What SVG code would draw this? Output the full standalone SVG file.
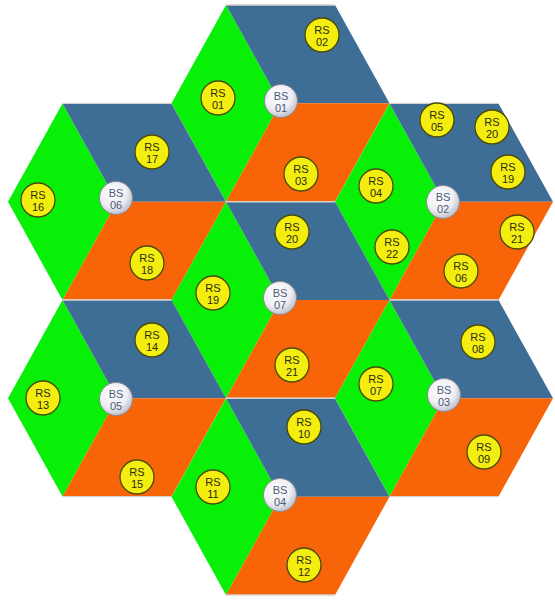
<svg xmlns="http://www.w3.org/2000/svg" xmlns:xlink="http://www.w3.org/1999/xlink" width="555" height="602" viewBox="0 0 555 602">
<style>
.g{fill:#08ef08}
.b{fill:#3e6e96}
.o{fill:#f86408}
.edge{stroke:#d9d2cc;stroke-width:1.4;fill:none}
.rs{fill:#f4ee10;stroke:#4a4a08;stroke-width:1.3}
.bs{fill:url(#bsg);stroke:#8a8a90;stroke-width:1}
text{font-family:"Liberation Sans",Arial,sans-serif;font-size:11px;text-anchor:middle;fill:#2a2a10}
text.bt{fill:#4a5a78}
</style>
<defs>
<radialGradient id="bsg" cx="40%" cy="35%" r="70%">
<stop offset="0" stop-color="#ffffff"/>
<stop offset="0.6" stop-color="#eeeef4"/>
<stop offset="1" stop-color="#b8b8c4"/>
</radialGradient>
<g id="hex">
<polygon class="g" points="-109,0 -54.5,-98.3 0,0 -54.5,98.3"/>
<polygon class="b" points="-54.5,-98.3 54.5,-98.3 109,0 0,0"/>
<polygon class="o" points="0,0 109,0 54.5,98.3 -54.5,98.3"/>
<path class="edge" d="M-54.5,-98.3H54.5M-54.5,98.3H54.5"/>
</g>
</defs>

<g id="cells">
<use xlink:href="#hex" href="#hex" x="280.5" y="103.3"/>
<use xlink:href="#hex" href="#hex" x="117" y="201.7"/>
<use xlink:href="#hex" href="#hex" x="444" y="201.7"/>
<use xlink:href="#hex" href="#hex" x="280.5" y="300"/>
<use xlink:href="#hex" href="#hex" x="117" y="398.3"/>
<use xlink:href="#hex" href="#hex" x="444" y="398.3"/>
<use xlink:href="#hex" href="#hex" x="280.5" y="496.7"/>
</g>

<g id="connectors"></g>

<g id="cell1">
<g id="rs02"><circle class="rs" cx="322" cy="35" r="17"/><text x="322" y="34">RS</text><text x="322" y="46">02</text></g>
<g id="rs01"><circle class="rs" cx="218" cy="98" r="17"/><text x="218" y="97">RS</text><text x="218" y="109">01</text></g>
<g id="bs01"><circle class="bs" cx="281" cy="101" r="16.5"/><text class="bt" x="281" y="100">BS</text><text class="bt" x="281" y="112">01</text></g>
<g id="rs03"><circle class="rs" cx="301" cy="174" r="17"/><text x="301" y="173">RS</text><text x="301" y="185">03</text></g>
</g>

<g id="cell2">
<g id="rs05"><circle class="rs" cx="437" cy="120" r="17"/><text x="437" y="119">RS</text><text x="437" y="131">05</text></g>
<g id="rs20b"><circle class="rs" cx="492" cy="127" r="17"/><text x="492" y="126">RS</text><text x="492" y="138">20</text></g>
<g id="rs19b"><circle class="rs" cx="508" cy="172" r="17"/><text x="508" y="171">RS</text><text x="508" y="183">19</text></g>
<g id="rs04"><circle class="rs" cx="376" cy="186" r="17"/><text x="376" y="185">RS</text><text x="376" y="197">04</text></g>
<g id="bs02"><circle class="bs" cx="443" cy="202" r="16.5"/><text class="bt" x="443" y="201">BS</text><text class="bt" x="443" y="213">02</text></g>
<g id="rs21b"><circle class="rs" cx="517" cy="232" r="17"/><text x="517" y="231">RS</text><text x="517" y="243">21</text></g>
<g id="rs22"><circle class="rs" cx="392" cy="247" r="17"/><text x="392" y="246">RS</text><text x="392" y="258">22</text></g>
<g id="rs06"><circle class="rs" cx="461" cy="271" r="17"/><text x="461" y="270">RS</text><text x="461" y="282">06</text></g>
</g>

<g id="cell6">
<g id="rs17"><circle class="rs" cx="152" cy="152" r="17"/><text x="152" y="151">RS</text><text x="152" y="163">17</text></g>
<g id="rs16"><circle class="rs" cx="38" cy="200" r="17"/><text x="38" y="199">RS</text><text x="38" y="211">16</text></g>
<g id="bs06"><circle class="bs" cx="116" cy="198" r="16.5"/><text class="bt" x="116" y="197">BS</text><text class="bt" x="116" y="209">06</text></g>
<g id="rs18"><circle class="rs" cx="147" cy="263" r="17"/><text x="147" y="262">RS</text><text x="147" y="274">18</text></g>
</g>

<g id="cell7">
<g id="rs20"><circle class="rs" cx="292" cy="232" r="17"/><text x="292" y="231">RS</text><text x="292" y="243">20</text></g>
<g id="rs19"><circle class="rs" cx="213" cy="293" r="17"/><text x="213" y="292">RS</text><text x="213" y="304">19</text></g>
<g id="bs07"><circle class="bs" cx="280" cy="298" r="16.5"/><text class="bt" x="280" y="297">BS</text><text class="bt" x="280" y="309">07</text></g>
<g id="rs21"><circle class="rs" cx="292" cy="365" r="17"/><text x="292" y="364">RS</text><text x="292" y="376">21</text></g>
</g>

<g id="cell5">
<g id="rs14"><circle class="rs" cx="152" cy="340" r="17"/><text x="152" y="339">RS</text><text x="152" y="351">14</text></g>
<g id="rs13"><circle class="rs" cx="43" cy="398" r="17"/><text x="43" y="397">RS</text><text x="43" y="409">13</text></g>
<g id="bs05"><circle class="bs" cx="116" cy="399" r="16.5"/><text class="bt" x="116" y="398">BS</text><text class="bt" x="116" y="410">05</text></g>
<g id="rs15"><circle class="rs" cx="137" cy="477" r="17"/><text x="137" y="476">RS</text><text x="137" y="488">15</text></g>
</g>

<g id="cell3">
<g id="rs08"><circle class="rs" cx="478" cy="342" r="17"/><text x="478" y="341">RS</text><text x="478" y="353">08</text></g>
<g id="rs07"><circle class="rs" cx="376" cy="384" r="17"/><text x="376" y="383">RS</text><text x="376" y="395">07</text></g>
<g id="bs03"><circle class="bs" cx="444" cy="395" r="16.5"/><text class="bt" x="444" y="394">BS</text><text class="bt" x="444" y="406">03</text></g>
<g id="rs09"><circle class="rs" cx="484" cy="452" r="17"/><text x="484" y="451">RS</text><text x="484" y="463">09</text></g>
</g>

<g id="cell4">
<g id="rs10"><circle class="rs" cx="304" cy="427" r="17"/><text x="304" y="426">RS</text><text x="304" y="438">10</text></g>
<g id="rs11"><circle class="rs" cx="213" cy="487" r="17"/><text x="213" y="486">RS</text><text x="213" y="498">11</text></g>
<g id="bs04"><circle class="bs" cx="280" cy="495" r="16.5"/><text class="bt" x="280" y="494">BS</text><text class="bt" x="280" y="506">04</text></g>
<g id="rs12"><circle class="rs" cx="304" cy="565" r="17"/><text x="304" y="564">RS</text><text x="304" y="576">12</text></g>
</g>
</svg>
